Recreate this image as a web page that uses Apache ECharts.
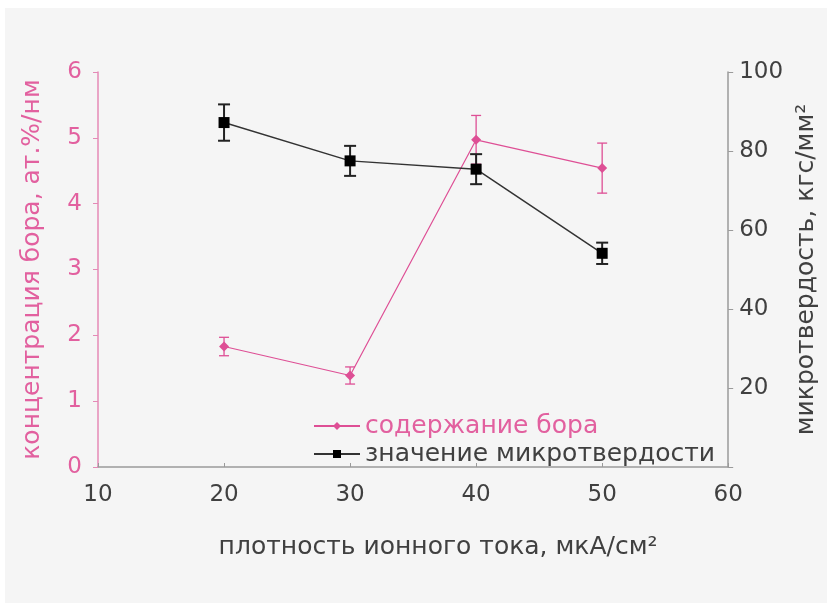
<!DOCTYPE html>
<html>
<head>
<meta charset="utf-8">
<script src="https://cdn.jsdelivr.net/npm/echarts@6/dist/echarts.min.js"></script>
<style>
  html, body { margin: 0; padding: 0; background: #ffffff; }
  #chart { width: 827px; height: 603px; }
</style>
</head>
<body>
<div id="chart"></div>
<script>
// Ion current density, µA/cm²
const currentDensity = [20, 30, 40, 50];
// Boron content, at.%/nm, and its error half-widths
const boronContent = [1.83, 1.39, 4.97, 4.54];
const boronError = [0.14, 0.13, 0.37, 0.38];
// Microhardness, kgf/mm², and its error half-widths
const microhardness = [87.2, 77.5, 75.4, 54.1];
const hardnessError = [4.6, 3.8, 3.8, 2.7];

const xTicks = [10, 20, 30, 40, 50, 60];
const leftTicks = [0, 1, 2, 3, 4, 5, 6];
const rightTicks = [0, 20, 40, 60, 80, 100];

const PINK = '#de4f95';
const PINK_TEXT = '#e2609f';
const TEXT = '#404040';
const FONT = '"DejaVu Sans", "Open Sans", sans-serif';

function pairs(xs, ys) { return xs.map((x, i) => [x, ys[i]]); }
function errRows(xs, ys, es) { return xs.map((x, i) => [x, ys[i] - es[i], ys[i] + es[i]]); }

function errorBars(color, width, capHalf) {
  return function (params, api) {
    const lo = api.coord([api.value(0), api.value(1)]);
    const hi = api.coord([api.value(0), api.value(2)]);
    const st = { stroke: color, lineWidth: width };
    return {
      type: 'group',
      children: [
        { type: 'line', shape: { x1: lo[0], y1: lo[1], x2: hi[0], y2: hi[1] }, style: st },
        { type: 'line', shape: { x1: lo[0] - capHalf, y1: lo[1], x2: lo[0] + capHalf, y2: lo[1] }, style: st },
        { type: 'line', shape: { x1: hi[0] - capHalf, y1: hi[1], x2: hi[0] + capHalf, y2: hi[1] }, style: st }
      ]
    };
  };
}

const chart = echarts.init(document.getElementById('chart'), null, { renderer: 'canvas' });

chart.setOption({
  animation: false,
  backgroundColor: '#ffffff',
  textStyle: { fontFamily: FONT },
  graphic: [{
    type: 'rect', z: -100, silent: true,
    shape: { x: 5, y: 8, width: 822, height: 595 },
    style: { fill: '#f5f5f5' }
  }],
  grid: { left: 98, right: 96, top: 72, bottom: 136, containLabel: false },
  legend: {
    orient: 'vertical',
    left: 308,
    top: 408,
    itemGap: 2,
    itemWidth: 46,
    itemHeight: 10,
    textStyle: { fontSize: 25, fontFamily: FONT, lineHeight: 26 },
    data: [
      { name: 'содержание бора', textStyle: { color: PINK_TEXT } },
      { name: 'значение микротвердости', textStyle: { color: TEXT } }
    ]
  },
  xAxis: {
    type: 'value',
    min: xTicks[0],
    max: xTicks[xTicks.length - 1],
    interval: 10,
    name: 'плотность ионного тока, мкА/см²',
    nameLocation: 'middle',
    nameGap: 68,
    nameTextStyle: { fontSize: 25, color: TEXT, fontFamily: FONT, padding: [0, 0, 0, 50] },
    axisLine: { lineStyle: { color: '#9a9a9a', width: 1.5 } },
    axisTick: { inside: true, length: 4, lineStyle: { color: '#9a9a9a' } },
    axisLabel: { fontSize: 23, color: TEXT, margin: 17, fontFamily: FONT },
    splitLine: { show: false }
  },
  yAxis: [
    {
      type: 'value',
      position: 'left',
      min: leftTicks[0],
      max: leftTicks[leftTicks.length - 1],
      interval: 1,
      name: 'концентрация бора, ат.%/нм',
      nameLocation: 'middle',
      nameGap: 53,
      nameTextStyle: { fontSize: 25, color: PINK_TEXT, fontFamily: FONT },
      axisLine: { show: true, lineStyle: { color: '#e48ab6', width: 1.5 } },
      axisTick: { show: true, length: 5, lineStyle: { color: '#e48ab6' } },
      axisLabel: { fontSize: 23, color: PINK_TEXT, margin: 16, fontFamily: FONT },
      splitLine: { show: false }
    },
    {
      type: 'value',
      position: 'right',
      min: rightTicks[0],
      max: rightTicks[rightTicks.length - 1],
      interval: 20,
      name: 'микротвердость, кгс/мм²',
      nameLocation: 'middle',
      nameGap: 57,
      nameTextStyle: { fontSize: 25, color: TEXT, fontFamily: FONT },
      axisLine: { show: true, lineStyle: { color: '#9a9a9a', width: 1.5 } },
      axisTick: { show: true, length: 5, lineStyle: { color: '#9a9a9a' } },
      axisLabel: {
        fontSize: 23, color: TEXT, margin: 11, fontFamily: FONT,
        formatter: v => (v === 0 ? '' : String(v))
      },
      splitLine: { show: false }
    }
  ],
  series: [
    {
      name: 'содержание бора',
      type: 'line',
      yAxisIndex: 0,
      data: pairs(currentDensity, boronContent),
      symbol: 'diamond',
      symbolSize: 10,
      itemStyle: { color: PINK },
      lineStyle: { color: PINK, width: 1.2 },
      z: 3
    },
    {
      name: 'значение микротвердости',
      type: 'line',
      yAxisIndex: 1,
      data: pairs(currentDensity, microhardness),
      symbol: 'rect',
      symbolSize: 11,
      itemStyle: { color: '#000000' },
      lineStyle: { color: '#333333', width: 1.5 },
      z: 4
    },
    {
      type: 'custom',
      yAxisIndex: 0,
      data: errRows(currentDensity, boronContent, boronError),
      renderItem: errorBars(PINK, 1.3, 5),
      encode: { x: 0, y: [1, 2] },
      silent: true,
      z: 2
    },
    {
      type: 'custom',
      yAxisIndex: 1,
      data: errRows(currentDensity, microhardness, hardnessError),
      renderItem: errorBars('#222222', 2, 6),
      encode: { x: 0, y: [1, 2] },
      silent: true,
      z: 3
    }
  ]
});
</script>
</body>
</html>
